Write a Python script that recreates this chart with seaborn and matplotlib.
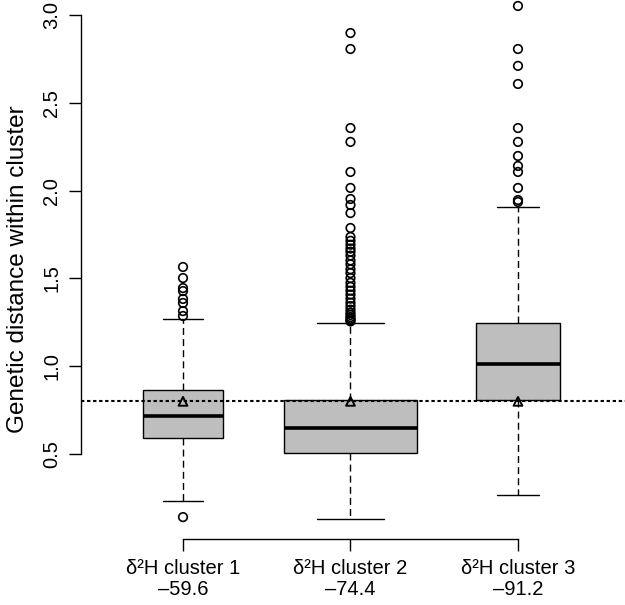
import numpy as np
import pandas as pd
import seaborn as sns
import matplotlib.pyplot as plt

# Cluster names and their mean d2H values
clusters = ["δ²H cluster 1", "δ²H cluster 2", "δ²H cluster 3"]
d2h_means = ["–59.6", "–74.4", "–91.2"]

# Box statistics
q1 = [0.591, 0.506, 0.807]
med = [0.716, 0.648, 1.013]
q3 = [0.864, 0.807, 1.246]
whis_lo = [0.232, 0.130, 0.267]
whis_hi = [1.269, 1.246, 1.907]
means = [0.800, 0.800, 0.800]
# relative box widths (varwidth boxplot)
box_widths = [0.472, 0.794, 0.496]

# Outliers
out_c1 = [0.141, 1.286, 1.314, 1.360, 1.383, 1.428, 1.445, 1.502, 1.565]
out_c2 = [2.897, 2.806, 2.356, 2.277, 2.106, 2.015, 1.952, 1.918, 1.872, 1.787,
          1.736, 1.714, 1.692, 1.670, 1.652, 1.630, 1.602, 1.580, 1.552, 1.530,
          1.502, 1.475, 1.452, 1.430, 1.408, 1.385, 1.362, 1.342, 1.322, 1.305,
          1.292, 1.280, 1.270, 1.262, 1.255]
out_c3 = [3.051, 2.806, 2.710, 2.607, 2.356, 2.277, 2.197, 2.140, 2.106, 2.015,
          1.946, 1.935]

ref_line = 0.8

sns.set_style("ticks")
plt.rcParams['font.family'] = ['Liberation Sans', 'DejaVu Sans']
plt.rcParams['text.color'] = 'black'
plt.rcParams['axes.labelcolor'] = 'black'
plt.rcParams['xtick.color'] = 'black'
plt.rcParams['ytick.color'] = 'black'

fig = plt.figure(figsize=(6.25, 6.05), dpi=100)
ax = fig.add_axes([0.1296, 0.109, 0.8704, 0.891])

stats = []
for i in range(3):
    stats.append(dict(label=clusters[i], q1=q1[i], med=med[i], q3=q3[i],
                      whislo=whis_lo[i], whishi=whis_hi[i], fliers=[]))

ax.bxp(stats, positions=[0, 1, 2], widths=box_widths, showfliers=False,
       patch_artist=True,
       boxprops=dict(facecolor='#BEBEBE', edgecolor='black', linewidth=1),
       medianprops=dict(color='black', linewidth=2.6, solid_capstyle='butt'),
       whiskerprops=dict(color='black', linewidth=1, linestyle=(0, (5, 3))),
       capprops=dict(color='black', linewidth=1))

# outliers
df_out = pd.DataFrame({
    'pos': [0] * len(out_c1) + [1] * len(out_c2) + [2] * len(out_c3),
    'value': out_c1 + out_c2 + out_c3,
})
sns.scatterplot(data=df_out, x='pos', y='value', ax=ax, marker='o', s=38,
                facecolor='none', edgecolor='black', linewidth=1.2, zorder=4)

# means
df_mean = pd.DataFrame({'pos': [0, 1, 2], 'value': means})
sns.scatterplot(data=df_mean, x='pos', y='value', ax=ax, marker='^', s=40,
                facecolor='none', edgecolor='black', linewidth=1.4, zorder=5)

ax.axhline(ref_line, color='black', linewidth=1.5, linestyle=(0, (1.6, 1.3)), zorder=3)

ax.set_xlim(-0.609, 2.639)
ax.set_ylim(0.016, 3.085)

ax.set_xticks([0, 1, 2])
ax.set_xticklabels([c + "\n" + m for c, m in zip(clusters, d2h_means)], linespacing=1.1)
ax.set_yticks([0.5, 1.0, 1.5, 2.0, 2.5, 3.0])
ax.set_yticklabels(["0.5", "1.0", "1.5", "2.0", "2.5", "3.0"], rotation=90, va='center')
ax.set_xlabel("")
ax.set_ylabel("Genetic distance within cluster", fontsize=17.5, labelpad=10)

ax.tick_params(axis='both', direction='out', length=8.6, width=1, labelsize=14.5,
               color='black', labelcolor='black')
ax.tick_params(axis='y', pad=5.5)
ax.tick_params(axis='x', pad=6)

for s in ['top', 'right']:
    ax.spines[s].set_visible(False)
ax.spines['left'].set_bounds(0.5, 3.0)
ax.spines['bottom'].set_bounds(0, 2)
for s in ['left', 'bottom']:
    ax.spines[s].set_linewidth(1)
    ax.spines[s].set_color('black')
ax.patch.set_visible(False)

fig.savefig('out.png', dpi=100)
